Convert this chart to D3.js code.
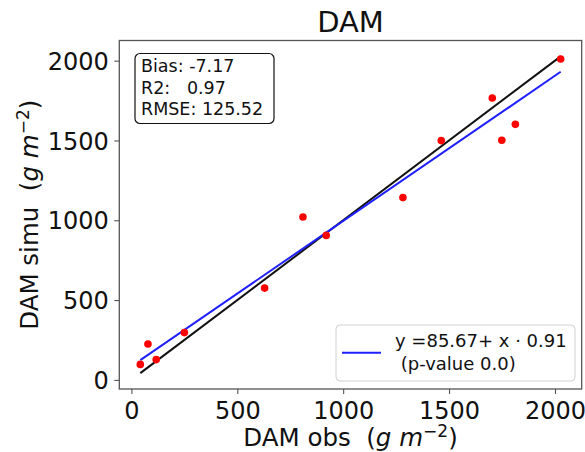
<!DOCTYPE html>
<html>
<head>
<meta charset="utf-8">
<script src="https://cdn.jsdelivr.net/npm/d3@7"></script>
<style>
  html, body { margin: 0; padding: 0; background: #fff; }
  svg { display: block; font-family: "DejaVu Sans", sans-serif; }
  text { white-space: pre; }
</style>
</head>
<body>
<svg id="chart" width="585" height="452"></svg>
<script>
// Observed vs simulated dry above-ground matter (g m-2)
const obs = [42, 78, 117, 250, 629, 810, 920, 1282, 1463, 1704, 1749, 1813, 2027];
const sim = [97, 225, 127, 296, 575, 1020, 905, 1142, 1499, 1766, 1501, 1601, 2010];

// Goodness-of-fit statistics and linear regression
const statLabels = ["Bias: ", "R2:   ", "RMSE: "];
const statValues = ["-7.17", "0.97", "125.52"];
const intercept = 85.67;
const slope = 0.91;
const pValue = "0.0";

const xTicks = [0, 500, 1000, 1500, 2000];
const yTicks = [0, 500, 1000, 1500, 2000];

const svg = d3.select("#chart");
const plot = { left: 119.3, right: 581.7, top: 40.5, bottom: 389 };

// Data limits (including the 1:1 line), padded by 5% on each side
const lo = Math.min(d3.min(obs), d3.min(sim));
const hi = Math.max(d3.max(obs), d3.max(sim));
const xLo = d3.min(obs), xHi = d3.max(obs);
const pad = 0.05 * (hi - lo);
const x = d3.scaleLinear().domain([xLo - 0.05 * (xHi - xLo), xHi + 0.05 * (xHi - xLo)]).range([plot.left, plot.right]);
const y = d3.scaleLinear().domain([lo - pad, hi + pad]).range([plot.bottom, plot.top]);

// Axes
const xAxis = svg.append("g")
  .attr("transform", `translate(0,${plot.bottom})`)
  .call(d3.axisBottom(x).tickValues(xTicks).tickSize(5).tickPadding(5).tickFormat(d3.format("d")));
const yAxis = svg.append("g")
  .attr("transform", `translate(${plot.left},0)`)
  .call(d3.axisLeft(y).tickValues(yTicks).tickSize(5).tickPadding(5).tickFormat(d3.format("d")));
[xAxis, yAxis].forEach(g => {
  g.select(".domain").remove();
  g.selectAll(".tick line").attr("stroke", "#444").attr("stroke-width", 1);
  g.selectAll(".tick text")
    .attr("fill", "#111")
    .style("font-family", "DejaVu Sans")
    .style("font-size", "24px");
});
xAxis.selectAll(".tick text").attr("dy", null).attr("y", 29.5);
yAxis.selectAll(".tick text").attr("dy", "0.36em").attr("x", -10.5);

// Frame
svg.append("rect")
  .attr("x", plot.left).attr("y", plot.top)
  .attr("width", plot.right - plot.left).attr("height", plot.bottom - plot.top)
  .attr("fill", "none").attr("stroke", "#555").attr("stroke-width", 1.3);

// 1:1 line
svg.append("line")
  .attr("x1", x(xLo)).attr("y1", y(xLo))
  .attr("x2", x(xHi)).attr("y2", y(xHi))
  .attr("stroke", "#111").attr("stroke-width", 2);

// Regression line
svg.append("line")
  .attr("x1", x(xLo)).attr("y1", y(intercept + slope * xLo))
  .attr("x2", x(xHi)).attr("y2", y(intercept + slope * xHi))
  .attr("stroke", "#1f1fff").attr("stroke-width", 2);

// Observations
svg.append("g").selectAll("circle")
  .data(obs.map((o, i) => [o, sim[i]]))
  .join("circle")
  .attr("cx", d => x(d[0])).attr("cy", d => y(d[1]))
  .attr("r", 3.8).attr("fill", "#ff0000");

// Title
svg.append("text")
  .attr("x", (plot.left + plot.right) / 2).attr("y", 31.5)
  .attr("text-anchor", "middle")
  .style("font-size", "29px").attr("fill", "#111")
  .text("DAM");

// Axis labels with (g m^-2) unit
function unitLabel(sel, name) {
  sel.append("tspan").text(name + "  (");
  sel.append("tspan").style("font-style", "italic").text("g");
  sel.append("tspan").text(" ");
  sel.append("tspan").style("font-style", "italic").text("m");
  sel.append("tspan").attr("dy", -9).style("font-size", "17px").text("\u22122");
  sel.append("tspan").attr("dy", 9).text(")");
}
svg.append("text")
  .attr("x", (plot.left + plot.right) / 2).attr("y", 446)
  .attr("text-anchor", "middle")
  .style("font-size", "24.5px").attr("fill", "#111")
  .call(unitLabel, "DAM obs");
svg.append("text")
  .attr("transform", `translate(37.5,${(plot.top + plot.bottom) / 2}) rotate(-90)`)
  .attr("text-anchor", "middle")
  .style("font-size", "24.5px").attr("fill", "#111")
  .call(unitLabel, "DAM simu");

// Statistics box
const stats = svg.append("g");
stats.append("rect")
  .attr("x", 135).attr("y", 53.5).attr("width", 139).attr("height", 70)
  .attr("rx", 5).attr("fill", "#fff").attr("stroke", "#111").attr("stroke-width", 1.2);
stats.selectAll("text")
  .data(statLabels.map((l, i) => l + statValues[i]))
  .join("text")
  .attr("x", 141).attr("y", (d, i) => 72.3 + i * 21.4)
  .style("font-size", "17.5px").attr("fill", "#111")
  .text(d => d);

// Legend
const legend = svg.append("g");
legend.append("rect")
  .attr("x", 336).attr("y", 325).attr("width", 239).attr("height", 56)
  .attr("rx", 4).attr("fill", "#fff").attr("fill-opacity", 0.8)
  .attr("stroke", "#d0d0d0").attr("stroke-width", 1);
legend.append("line")
  .attr("x1", 342).attr("x2", 381).attr("y1", 352.7).attr("y2", 352.7)
  .attr("stroke", "#1f1fff").attr("stroke-width", 2);
legend.selectAll("text")
  .data([`y =${intercept.toFixed(2)}+ x \u00b7 ${slope.toFixed(2)}`, ` (p-value ${pValue})`])
  .join("text")
  .attr("x", 395).attr("y", (d, i) => 347 + i * 23)
  .style("font-size", "18px").attr("fill", "#111")
  .text(d => d);
</script>
</body>
</html>
